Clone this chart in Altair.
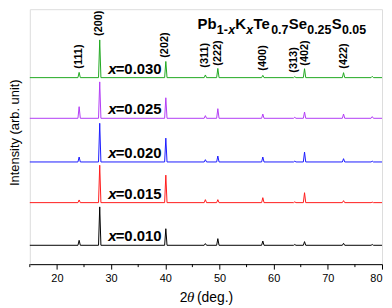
import altair as alt
import pandas as pd

# ---- data ----
samples = ["0.010", "0.015", "0.020", "0.025", "0.030"]
colors = ["#000000", "#ff1a1a", "#1a1aff", "#b23cf5", "#1fa81f"]
baselines = [19, 62, 103, 147, 188]          # vertical offset of each pattern (arb.)
peak_pos = [24.1, 27.9, 40.1, 47.4, 49.7, 58.0, 63.9, 65.7, 72.9, 78.2]   # 2theta (deg.)
h_010 = [5.0, 38.7, 16.7, 1.7, 6.7, 4.3, 0.8, 3.7, 2.0, 0.8]
h_015 = [2.7, 37.7, 27.7, 3.0, 3.0, 5.0, 0.8, 10.0, 2.0, 0.5]
h_020 = [5.0, 39.0, 24.0, 2.3, 6.0, 5.0, 0.8, 10.0, 3.3, 0.8]
h_025 = [11.7, 36.7, 20.7, 2.7, 9.7, 4.3, 1.0, 6.3, 4.3, 1.7]
h_030 = [5.3, 38.0, 16.3, 2.7, 9.3, 2.3, 1.0, 9.0, 5.0, 1.3]
heights = [h_010, h_015, h_020, h_025, h_030]

hkl = ["(111)", "(200)", "(202)", "(311)", "(222)", "(400)", "(313)", "(402)", "(422)"]
hkl_x = [24.1, 27.8, 40.0, 47.3, 49.7, 58.0, 63.7, 65.8, 73.0]
hkl_y = [197, 230, 208, 198, 200, 195, 193, 200, 197]

major_ticks = [20, 30, 40, 50, 60, 70, 80]
minor_ticks = [15, 25, 35, 45, 55, 65, 75]

FONT = "Liberation Sans"
W, H = 355, 257
HALF = 0.22   # half width of drawn peak (deg.)

# ---- build line table ----
rows = []
for s, base, hs in zip(samples, baselines, heights):
    pts = [(15.0, base)]
    for p, h in zip(peak_pos, hs):
        pts += [(p - HALF, base), (p, base + h), (p + HALF, base)]
    pts.append((80.0, base))
    for i, (x, y) in enumerate(pts):
        rows.append({"sample": s, "tt": x, "I": y, "o": i})
lines_df = pd.DataFrame(rows)

xscale = alt.Scale(domain=[15, 80], nice=False, zero=False)
yscale = alt.Scale(domain=[0, H], nice=False, zero=False)

xaxis = alt.Axis(
    values=major_ticks, title=None, grid=False, tickSize=5,
    labelFontSize=11, labelFont=FONT, labelColor="black", labelPadding=3,
    tickColor="black", domainColor="black", tickWidth=1, domainWidth=1,
)
yaxis = alt.Axis(
    labels=False, ticks=False, domain=False, grid=False,
    title="Intensity (arb. unit)", titleFont=FONT, titleFontSize=13,
    titleFontWeight="normal", titleColor="black",
    titleX=-8, titleY=124, titleAngle=270, titleBaseline="bottom", titleAlign="center",
)

lines = alt.Chart(lines_df).mark_line(strokeWidth=1).encode(
    x=alt.X("tt:Q", scale=xscale, axis=xaxis),
    y=alt.Y("I:Q", scale=yscale, axis=yaxis),
    color=alt.Color("sample:N", scale=alt.Scale(domain=samples, range=colors), legend=None),
    detail="sample:N",
    order="o:Q",
)

# minor ticks on the x axis
minor_df = pd.DataFrame({"m": minor_ticks})
minor = alt.Chart(minor_df).mark_rule(color="black", strokeWidth=1).encode(
    x=alt.X("m:Q", scale=xscale), y=alt.value(H), y2=alt.value(H + 3)
)

# sample labels
lab_df = pd.DataFrame({"sample": samples, "lx": [29.47] * 5,
                       "ly": [b + 4 for b in baselines],
                       "txt": ["=" + s for s in samples]})
lab_x = alt.Chart(lab_df).mark_text(
    font=FONT, fontSize=15, fontWeight="bold", fontStyle="italic",
    align="left", baseline="alphabetic", color="black"
).encode(x=alt.X("lx:Q", scale=xscale), y=alt.Y("ly:Q", scale=yscale), text=alt.value("x"))
lab_v = alt.Chart(lab_df).mark_text(
    font=FONT, fontSize=15, fontWeight="bold",
    align="left", baseline="alphabetic", color="black", dx=7.5
).encode(x=alt.X("lx:Q", scale=xscale), y=alt.Y("ly:Q", scale=yscale), text="txt:N")

# peak index labels
hkl_df = pd.DataFrame({"hkl": hkl, "hx": hkl_x, "hy": hkl_y})
hkl_txt = alt.Chart(hkl_df).mark_text(
    font=FONT, fontSize=11, fontWeight="bold", angle=270,
    align="left", baseline="middle", color="black"
).encode(x=alt.X("hx:Q", scale=xscale), y=alt.Y("hy:Q", scale=yscale), text="hkl:N")

# composition title with subscripts
em = {"P": .667, "b": .611, "1": .556, "-": .333, "x": .556, "K": .722, "T": .611,
      "e": .556, "0": .556, ".": .278, "7": .556, "S": .667, "2": .556, "5": .556}
segments = [("Pb", 0), ("1-", 1), ("x", 2), ("K", 0), ("x", 2), ("Te", 0), ("0.7", 1),
            ("Se", 0), ("0.25", 1), ("S", 0), ("0.05", 1)]
title_layers = []
cx = 169.0
for txt, kind in segments:
    size = 15 if kind == 0 else 12.5
    ypos = 19.7 if kind == 0 else 25.3
    title_layers.append(
        alt.Chart(lab_df.head(1)).mark_text(
            font=FONT, fontSize=size, fontWeight="bold",
            fontStyle="italic" if kind == 2 else "normal",
            align="left", baseline="alphabetic", color="black"
        ).encode(x=alt.value(cx), y=alt.value(ypos), text=alt.value(txt))
    )
    cx += sum(em[c] for c in txt) * size + 0.3

# x-axis title: 2θ (deg.)
xt = []
for txt, xp, style, fnt, sz in [("2", 151.0, "normal", FONT, 14),
                                ("θ", 158.5, "italic", "Liberation Serif", 15),
                                ("(deg.)", 168.5, "normal", FONT, 14)]:
    xt.append(alt.Chart(lab_df.head(1)).mark_text(
        font=fnt, fontSize=sz, fontStyle=style, align="left",
        baseline="alphabetic", color="black"
    ).encode(x=alt.value(xp), y=alt.value(295), text=alt.value(txt)))

chart = alt.layer(lines, minor, lab_x, lab_v, hkl_txt, *title_layers, *xt).properties(
    width=W, height=H, padding={"left": 0, "top": 0, "right": 0, "bottom": 0}
).configure_view(stroke="black", strokeWidth=1).configure(background="white")

chart.save("out.html", embed_options={"renderer": "svg", "actions": False})
